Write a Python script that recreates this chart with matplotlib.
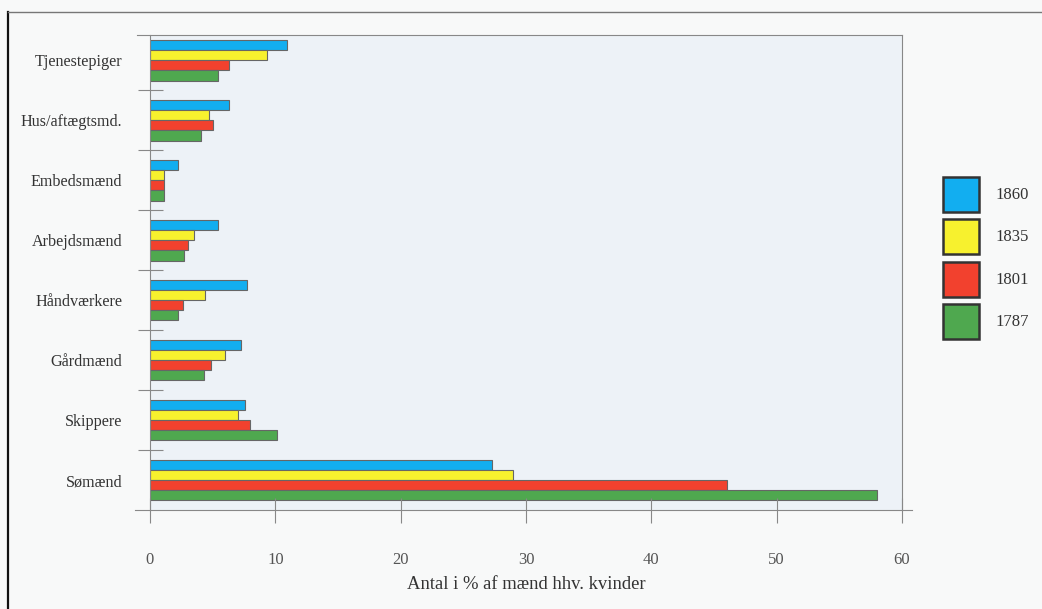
import numpy as np
import matplotlib.pyplot as plt
from matplotlib.patches import Rectangle
from matplotlib.lines import Line2D

categories = ['Sømænd', 'Skippere', 'Gårdmænd', 'Håndværkere',
              'Arbejdsmænd', 'Embedsmænd', 'Hus/aftægtsmd.', 'Tjenestepiger']
years = ['1860', '1835', '1801', '1787']
v1860 = [27.3, 7.6, 7.3, 7.7, 5.4, 2.2, 6.3, 10.9]
v1835 = [29.0, 7.0, 6.0, 4.4, 3.5, 1.1, 4.7, 9.3]
v1801 = [46.0, 8.0, 4.9, 2.6, 3.0, 1.1, 5.0, 6.3]
v1787 = [58.0, 10.1, 4.3, 2.2, 2.7, 1.1, 4.1, 5.4]
colors = ['#12aef0', '#f7f12e', '#f2412e', '#4fa84f']
xticks = [0, 10, 20, 30, 40, 50, 60]

plt.rcParams['font.family'] = ['Liberation Serif', 'DejaVu Serif']

fig = plt.figure(figsize=(10.42, 6.09), dpi=100, facecolor='#f8f9f9')
ax = fig.add_axes([150 / 1042, 1 - 510 / 609, 752 / 1042, 475 / 609])
ax.set_facecolor('#edf2f7')

y = np.arange(len(categories))
h = 0.17
series = [v1860, v1835, v1801, v1787]
offsets = [1.5, 0.5, -0.5, -1.5]
for vals, off, c, lab in zip(series, offsets, colors, years):
    ax.barh(y + off * h, vals, height=h, color=c, edgecolor='#666666',
            linewidth=0.8, label=lab)

ax.set_xlim(0, 60)
ax.set_ylim(-0.5, 7.42)
ax.set_xticks(xticks)
ax.set_xticklabels([str(t) for t in xticks], color='#555555', fontsize=12)
ax.tick_params(axis='x', direction='inout', length=18, width=0.8,
               color='#888888', pad=21)
ax.set_yticks(y)
ax.set_yticklabels(categories, fontsize=11.6, color='#333333')
ax.tick_params(axis='y', which='major', length=0, pad=20)
ax.set_yticks(np.arange(-0.5, 7.5, 1.0)[1:], minor=True)
ax.tick_params(axis='y', which='minor', direction='inout', length=18,
               width=0.8, color='#888888')
ax.set_xlabel('Antal i % af mænd hhv. kvinder', fontsize=13.4, color='#333333',
              labelpad=6)

for s in ['left', 'right', 'top', 'bottom']:
    ax.spines[s].set_color('#888888')
    ax.spines[s].set_linewidth(0.8)
ax.spines['bottom'].set_bounds(-1.2, 60.8)
ax.spines['top'].set_bounds(-1.0, 60)

# legend drawn as squares on the right
sq_tops = [177, 219, 262, 304]
for top, c, lab in zip(sq_tops, colors, years):
    fig.add_artist(Rectangle((943 / 1042, 1 - (top + 35) / 609), 36 / 1042, 35 / 609,
                             transform=fig.transFigure, facecolor=c,
                             edgecolor='#333333', linewidth=1.8))
    fig.text(995 / 1042, 1 - (top + 18) / 609, lab, fontsize=12,
             color='#333333', va='center', ha='left')

# page frame lines
fig.add_artist(Line2D([8 / 1042, 8 / 1042], [1 - 12 / 609, 0], transform=fig.transFigure,
                      color='#111111', linewidth=1.6))
fig.add_artist(Line2D([8 / 1042, 1], [1 - 12 / 609, 1 - 12 / 609], transform=fig.transFigure,
                      color='#777777', linewidth=1.0))

fig.savefig('out.png', dpi=100, facecolor=fig.get_facecolor())
